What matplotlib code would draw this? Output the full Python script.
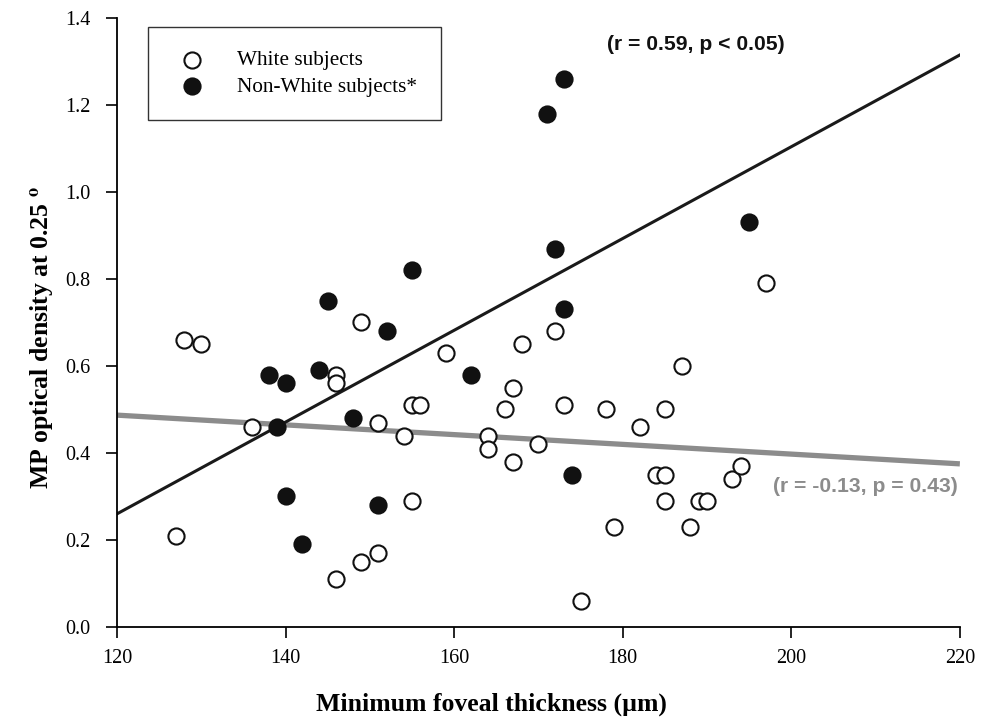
import numpy as np
import matplotlib.pyplot as plt

# --- data --------------------------------------------------------------
white_x = [127, 128, 130, 136, 146, 146, 146, 149, 149, 151, 151, 154, 155, 156,
           155, 159, 164, 164, 166, 167, 167, 168, 170, 172, 173, 175, 178, 179,
           182, 184, 185, 185, 185, 187, 188, 189, 190, 193, 194, 197]
white_y = [0.21, 0.66, 0.65, 0.46, 0.58, 0.56, 0.11, 0.70, 0.15, 0.47, 0.17, 0.44,
           0.51, 0.51, 0.29, 0.63, 0.44, 0.41, 0.50, 0.55, 0.38, 0.65, 0.42, 0.68,
           0.51, 0.06, 0.50, 0.23, 0.46, 0.35, 0.35, 0.29, 0.50, 0.60, 0.23, 0.29,
           0.29, 0.34, 0.37, 0.79]

nonwhite_x = [138, 139, 140, 140, 142, 144, 145, 148, 151, 152, 155, 162, 171,
              172, 173, 173, 174, 195]
nonwhite_y = [0.58, 0.46, 0.56, 0.30, 0.19, 0.59, 0.75, 0.48, 0.28, 0.68, 0.82,
              0.58, 1.18, 0.87, 1.26, 0.73, 0.35, 0.93]

# regression lines (end points at x = 120 and x = 220)
fit_x = [120, 220]
fit_nonwhite = [0.26, 1.315]
fit_white = [0.487, 0.375]

x_ticks = [120, 140, 160, 180, 200, 220]
y_ticks = [0.0, 0.2, 0.4, 0.6, 0.8, 1.0, 1.2, 1.4]

# --- plot ----------------------------------------------------------------
plt.rcParams["font.family"] = ["Liberation Serif", "DejaVu Serif"]
plt.rcParams["mathtext.fontset"] = "stix"

fig = plt.figure(figsize=(9.87, 7.25), dpi=100)
ax = fig.add_axes([0.1185, 0.1352, 0.854, 0.84])

ax.plot(fit_x, fit_white, color="#8c8c8c", lw=3.8, solid_capstyle="butt", zorder=1)
ax.plot(fit_x, fit_nonwhite, color="#1a1a1a", lw=2.2, zorder=1)

ax.scatter(white_x, white_y, s=135, facecolor="white", edgecolor="#111111",
           linewidths=1.5, zorder=3, label="White subjects")
ax.scatter(nonwhite_x, nonwhite_y, s=135, facecolor="#111111", edgecolor="#111111",
           linewidths=1.5, zorder=3, label="Non-White subjects*")

ax.set_xlim(120, 220)
ax.set_ylim(0, 1.4)
ax.set_xticks(x_ticks)
ax.set_yticks(y_ticks)
ax.set_yticklabels([f"{v:.1f}" for v in y_ticks])
ax.tick_params(direction="out", length=8, width=1.2, labelsize=14.5, pad=8)
ax.tick_params(axis="y", pad=11)
for side in ["top", "right"]:
    ax.spines[side].set_visible(False)
for side in ["left", "bottom"]:
    ax.spines[side].set_linewidth(1.3)

ax.set_xlabel("Minimum foveal thickness (µm)", fontsize=18.5, fontweight="bold")
ax.xaxis.set_label_coords(0.444, -0.108)
ax.set_ylabel(r"MP optical density at 0.25 $\mathbf{^{o}}$", fontsize=18.5,
              fontweight="bold")
ax.yaxis.set_label_coords(-0.071, 0.476)

ax.text(0.687, 0.956, "(r = 0.59, p < 0.05)", transform=ax.transAxes,
        fontsize=15.2, fontweight="bold", family=["Liberation Sans"],
        color="#111111", ha="center", va="center")
ax.text(0.9976, 0.230, "(r = -0.13, p = 0.43)", transform=ax.transAxes,
        fontsize=15.2, fontweight="bold", family=["Liberation Sans"],
        color="#8c8c8c", ha="right", va="center")

leg = ax.legend(loc="upper left", bbox_to_anchor=(0.037, 0.985), fontsize=15.3,
                frameon=True, fancybox=False, edgecolor="black",
                borderpad=1.1, handletextpad=1.2, labelspacing=0.3,
                borderaxespad=0, handlelength=1.9)
leg.get_frame().set_linewidth(1.0)

fig.savefig("out.png", dpi=100)
